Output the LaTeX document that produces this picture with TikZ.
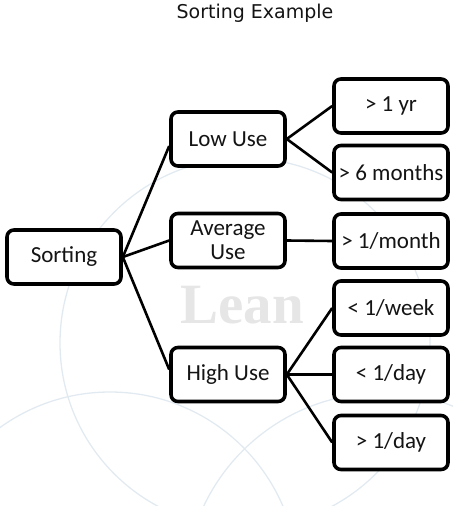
\documentclass[tikz,border=0pt]{standalone}
\usepackage{fontspec}
\setmainfont{Carlito}
\newfontfamily\titlefont{DejaVu Sans}
\newfontfamily\markfont{Liberation Serif}
\usetikzlibrary{shadows}
\definecolor{ink}{HTML}{141414}
\definecolor{ring}{HTML}{E2EAF1}
\definecolor{markgray}{HTML}{E6E6E6}
\tikzset{
  usebox/.style={draw=black, fill=white, line width=3.6pt, rounded corners=7pt,
    minimum width=114pt, minimum height=54pt, inner sep=0pt, align=center,
    text=ink, font=\fontsize{23}{24}\selectfont,
    drop shadow={shadow xshift=1.3pt, shadow yshift=-1.3pt, opacity=0.35, fill=black}},
  link/.style={draw=black, line width=2.6pt},
  ringline/.style={draw=ring, line width=1.3pt}
}
\begin{document}
\begin{tikzpicture}[x=1pt, y=-1pt]
  \useasboundingbox (0,0) rectangle (453,506);
  % faint background rings and watermark
  \begin{scope}
    \clip (0,0) rectangle (453,506);
    \draw[ringline] (245,343) circle[radius=185pt];
    \draw[ringline] (110,580) circle[radius=188pt];
    \draw[ringline] (382,590) circle[radius=197pt];
  \end{scope}
  \node[anchor=base west, inner sep=0pt, text=markgray, font=\markfont\bfseries\fontsize{57}{57}\selectfont]
    (mark) at (180,323) {Lean};
  % title
  \node[font=\titlefont\fontsize{19}{22}\selectfont, text=ink] (title) at (255,13) {Sorting Example};
  % boxes
  \node[usebox] (sort) at (64,257)    {Sorting};
  \node[usebox] (low)  at (228,139)   {Low Use};
  \node[usebox] (avg)  at (228,240.5) {Average\\Use};
  \node[usebox] (high) at (228,374.5) {High Use};
  \node[usebox] (yr)   at (391,106)   {> 1 yr};
  \node[usebox] (six)  at (391,172.5) {> 6 months};
  \node[usebox] (mon)  at (391,241)   {> 1/month};
  \node[usebox] (week) at (391,308)   {< 1/week};
  \node[usebox] (lday) at (391,374.5) {< 1/day};
  \node[usebox] (gday) at (391,442.5) {> 1/day};
  % connectors
  \draw[link] (sort.east) -- ([yshift=-7pt]low.west);
  \draw[link] (sort.east) -- (avg.west);
  \draw[link] (sort.east) -- ([yshift=5pt]high.west);
  \draw[link] (low.east) -- (yr.west);
  \draw[link] (low.east) -- (six.west);
  \draw[link] (avg.east) -- (mon.west);
  \draw[link] (high.east) -- (week.west);
  \draw[link] (high.east) -- (lday.west);
  \draw[link] (high.east) -- (gday.west);
\end{tikzpicture}
\end{document}
